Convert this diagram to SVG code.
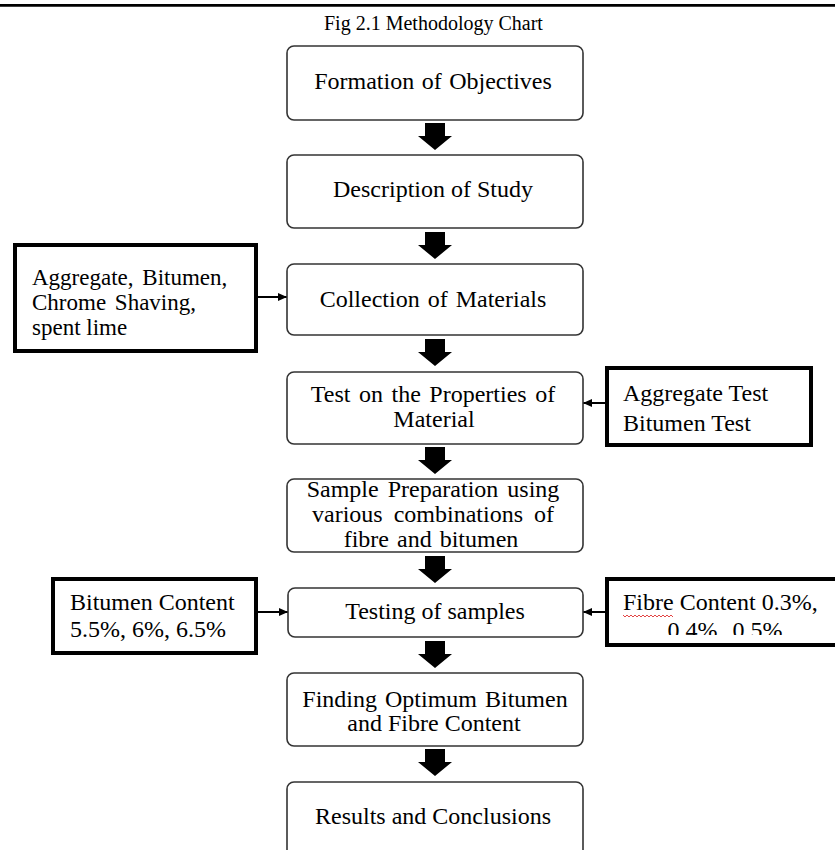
<svg xmlns="http://www.w3.org/2000/svg" width="835" height="850" viewBox="0 0 835 850">
  <style>
    text { font-family: "Liberation Serif", "Times New Roman", serif; fill: #000; }
    .t { font-size: 24px; }
    .s { font-size: 23px; }
    .c { text-anchor: middle; }
    .title { font-size: 20px; }
    .step { fill: #fff; stroke: #333; stroke-width: 1.6; }
    .input { fill: #fff; stroke: #000; stroke-width: 4; }
    .link { stroke: #000; stroke-width: 2; fill: none; }
    .block { fill: #000; }
  </style>
  <defs>
    <marker id="ah" markerUnits="userSpaceOnUse" markerWidth="10" markerHeight="10" refX="9" refY="5" orient="auto">
      <path d="M0,1 L9,5 L0,9 Z" fill="#000"/>
    </marker>
    <path id="blk" d="M-10,0 H10 V13 H17 L0,27 L-17,13 H-10 Z"/>
    <clipPath id="clipD">
      <rect x="605" y="577" width="240" height="58"/>
    </clipPath>
  </defs>

  <rect width="835" height="850" fill="#fff"/>
  <line x1="0" y1="5.3" x2="835" y2="5.3" stroke="#000" stroke-width="2.8"/>
  <text class="title" x="324" y="30">Fig 2.1 Methodology Chart</text>

  <g id="connectors">
    <use href="#blk" class="block" x="435" y="123"/>
    <use href="#blk" class="block" x="435" y="232"/>
    <use href="#blk" class="block" x="435" y="339"/>
    <use href="#blk" class="block" x="435" y="447"/>
    <use href="#blk" class="block" x="435" y="556"/>
    <use href="#blk" class="block" x="435" y="641"/>
    <use href="#blk" class="block" x="435" y="749"/>
    <line class="link" x1="258" y1="297" x2="287" y2="297" marker-end="url(#ah)"/>
    <line class="link" x1="605" y1="403" x2="583" y2="403" marker-end="url(#ah)"/>
    <line class="link" x1="258" y1="612" x2="288" y2="612" marker-end="url(#ah)"/>
    <line class="link" x1="605" y1="612" x2="583" y2="612" marker-end="url(#ah)"/>
  </g>

  <g id="n1">
    <rect class="step" x="287" y="46" width="296" height="74" rx="7"/>
    <text class="t c" x="433" y="89" word-spacing="1.5">Formation of Objectives</text>
  </g>
  <g id="n2">
    <rect class="step" x="287" y="155" width="296" height="73" rx="7"/>
    <text class="t c" x="433" y="197">Description of Study</text>
  </g>
  <g id="n3">
    <rect class="step" x="287" y="264" width="296" height="71" rx="7"/>
    <text class="t c" x="433" y="307" word-spacing="2">Collection of Materials</text>
  </g>
  <g id="inA">
    <rect class="input" x="15" y="245" width="241" height="106"/>
    <text class="s" x="32" y="285" word-spacing="3">Aggregate, Bitumen,</text>
    <text class="s" x="32" y="310" word-spacing="3">Chrome Shaving,</text>
    <text class="s" x="32" y="335">spent lime</text>
  </g>
  <g id="n4">
    <rect class="step" x="287" y="372" width="296" height="72" rx="7"/>
    <text class="t c" x="433" y="402" word-spacing="2.5">Test on the Properties of</text>
    <text class="t c" x="434" y="427">Material</text>
  </g>
  <g id="inB">
    <rect class="input" x="607" y="368" width="204" height="77"/>
    <text class="t" x="623" y="401">Aggregate Test</text>
    <text class="t" x="623" y="431">Bitumen Test</text>
  </g>
  <g id="n5">
    <rect class="step" x="287" y="479" width="296" height="73" rx="7"/>
    <text class="t c" x="433" y="497" word-spacing="3">Sample Preparation using</text>
    <text class="t c" x="433" y="522" word-spacing="5">various combinations of</text>
    <text class="t c" x="431" y="547" word-spacing="2">fibre and bitumen</text>
  </g>
  <g id="n6">
    <rect class="step" x="288" y="588" width="295" height="49" rx="7"/>
    <text class="t c" x="435" y="619">Testing of samples</text>
  </g>
  <g id="inC">
    <rect class="input" x="53" y="579" width="203" height="74"/>
    <text class="t" x="70" y="610">Bitumen Content</text>
    <text class="t" x="70" y="637">5.5%, 6%, 6.5%</text>
  </g>
  <g id="inD">
    <rect class="input" x="607" y="579" width="235" height="66"/>
    <text class="t" x="623" y="610">Fibre Content 0.3%,</text>
    <path d="M623,615 l2,2 l2,-2 l2,2 l2,-2 l2,2 l2,-2 l2,2 l2,-2 l2,2 l2,-2 l2,2 l2,-2 l2,2 l2,-2 l2,2 l2,-2 l2,2 l2,-2 l2,2 l2,-2 l2,2 l2,-2 l2,2 l2,-2 l2,2" fill="none" stroke="#e03030" stroke-width="0.9"/>
    <g clip-path="url(#clipD)">
      <text class="t c" x="725" y="638" word-spacing="3">0.4%, 0.5%</text>
    </g>
  </g>
  <g id="n7">
    <rect class="step" x="287" y="673" width="296" height="73" rx="7"/>
    <text class="t c" x="435" y="707" word-spacing="2">Finding Optimum Bitumen</text>
    <text class="t c" x="434" y="731">and Fibre Content</text>
  </g>
  <g id="n8">
    <rect class="step" x="287" y="782" width="296" height="90" rx="7"/>
    <text class="t c" x="433" y="824">Results and Conclusions</text>
  </g>
</svg>
